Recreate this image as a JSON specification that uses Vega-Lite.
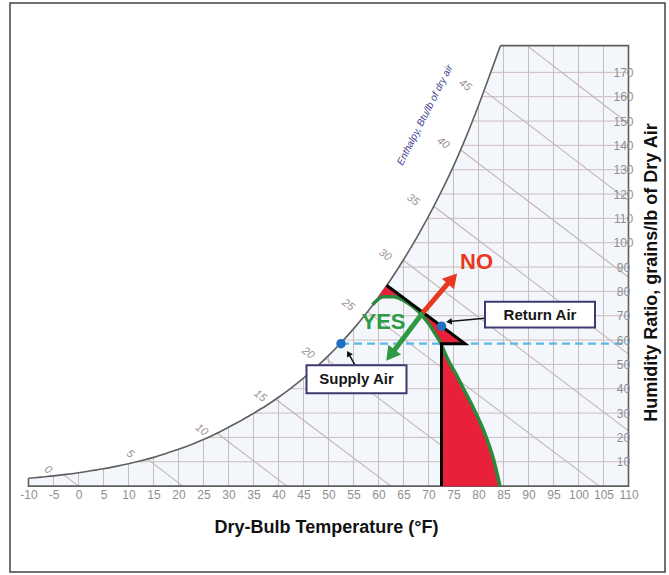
{
  "$schema": "https://vega.github.io/schema/vega-lite/v6.json",
  "width": 655,
  "height": 569,
  "autosize": {"type": "none"},
  "padding": {"left": 10, "top": 3, "right": 4, "bottom": 3},
  "background": "white",
  "config": {"font": "Liberation Sans", "view": {"stroke": "#444", "strokeWidth": 1.5}},
  "encoding": {
    "x": {"field": "T", "type": "quantitative", "scale": {"domain": [-13.7, 117.3], "nice": false, "zero": false},
      "axis": {"orient": "bottom", "offset": -86, "values": [-10,-5,0,5,10,15,20,25,30,35,40,45,50,55,60,65,70,75,80,85,90,95,100,105,110],
        "domain": false, "ticks": false, "grid": false, "labelColor": "#8f8f8f", "labelFontSize": 12, "labelPadding": 3, "labelFlush": false, "labelOverlap": false,
        "labelExpr": "'' + datum.value", "zindex": 1,
        "title": "Dry-Bulb Temperature (°F)", "titleFontSize": 18, "titleFontWeight": "bold", "titleColor": "#111", "titleX": 316, "titleY": 41, "titleAlign": "center", "titleBaseline": "middle"}},
    "y": {"field": "W", "type": "quantitative", "scale": {"domain": [-35.3, 198.5], "nice": false, "zero": false},
      "axis": {"orient": "right", "offset": -36, "values": [10,20,30,40,50,60,70,80,90,100,110,120,130,140,150,160,170],
        "domain": false, "ticks": false, "grid": false, "labelColor": "#8f8f8f", "labelFontSize": 12, "labelPadding": -6, "labelAlign": "center", "labelFlush": false, "labelOverlap": false, "zindex": 1,
        "title": "Humidity Ratio, grains/lb of Dry Air", "titleFontSize": 18, "titleFontWeight": "bold", "titleColor": "#111", "titleAngle": 270, "titleX": 22, "titleY": 269, "titleAlign": "center", "titleBaseline": "middle"}}
  },
  "layer": [
    {
      "data": {"values": [
        {"T": -10, "W": 3.2}, {"T": -7.5, "W": 3.7}, {"T": -5, "W": 4.2}, {"T": -2.5, "W": 4.8}, {"T": 0, "W": 5.5}, {"T": 2.5, "W": 6.3}, {"T": 5, "W": 7.1}, {"T": 7.5, "W": 8.1}, {"T": 10, "W": 9.2}, {"T": 12.5, "W": 10.4}, {"T": 15, "W": 11.8}, {"T": 17.5, "W": 13.4}, {"T": 20, "W": 15.1}, {"T": 22.5, "W": 17.0}, {"T": 25, "W": 19.1}, {"T": 27.5, "W": 21.5}, {"T": 30, "W": 24.2}, {"T": 32.5, "W": 26.9}, {"T": 35, "W": 29.9}, {"T": 37.5, "W": 33.0}, {"T": 40, "W": 36.5}, {"T": 42.5, "W": 40.3}, {"T": 45, "W": 44.4}, {"T": 47.5, "W": 48.8}, {"T": 50, "W": 53.6}, {"T": 52.5, "W": 58.9}, {"T": 55, "W": 64.6}, {"T": 57.5, "W": 70.8}, {"T": 60, "W": 77.6}, {"T": 62.5, "W": 85.0}, {"T": 65, "W": 93.0}, {"T": 67.5, "W": 101.6}, {"T": 70, "W": 110.8}, {"T": 72.5, "W": 120.8}, {"T": 75, "W": 131.5}, {"T": 77.5, "W": 143.4}, {"T": 80, "W": 156.4}, {"T": 82.5, "W": 170.3}, {"T": 84.4, "W": 181}, {"T": 110, "W": 181}
      ]},
      "mark": {"type": "area", "color": "#f3f7fb", "interpolate": "monotone"},
      "encoding": {"y2": {"datum": 0}}
    },
    {
      "data": {"values": [
        {"T": -5, "W": 0, "T2": -5, "W2": 4.2}, {"T": 0, "W": 0, "T2": 0, "W2": 5.5}, {"T": 5, "W": 0, "T2": 5, "W2": 7.1}, {"T": 10, "W": 0, "T2": 10, "W2": 9.2}, {"T": 15, "W": 0, "T2": 15, "W2": 11.8}, {"T": 20, "W": 0, "T2": 20, "W2": 15.1}, {"T": 25, "W": 0, "T2": 25, "W2": 19.1}, {"T": 30, "W": 0, "T2": 30, "W2": 24.2}, {"T": 35, "W": 0, "T2": 35, "W2": 29.9}, {"T": 40, "W": 0, "T2": 40, "W2": 36.5}, {"T": 45, "W": 0, "T2": 45, "W2": 44.4}, {"T": 50, "W": 0, "T2": 50, "W2": 53.6}, {"T": 55, "W": 0, "T2": 55, "W2": 64.6}, {"T": 60, "W": 0, "T2": 60, "W2": 77.6}, {"T": 65, "W": 0, "T2": 65, "W2": 93.0}, {"T": 70, "W": 0, "T2": 70, "W2": 110.8}, {"T": 75, "W": 0, "T2": 75, "W2": 131.5}, {"T": 80, "W": 0, "T2": 80, "W2": 156.4}, {"T": 85, "W": 0, "T2": 85, "W2": 181}, {"T": 90, "W": 0, "T2": 90, "W2": 181}, {"T": 95, "W": 0, "T2": 95, "W2": 181}, {"T": 100, "W": 0, "T2": 100, "W2": 181}, {"T": 105, "W": 0, "T2": 105, "W2": 181},
        {"T": 11.7, "W": 10, "T2": 110, "W2": 10}, {"T": 25.9, "W": 20, "T2": 110, "W2": 20}, {"T": 35.1, "W": 30, "T2": 110, "W2": 30}, {"T": 42.3, "W": 40, "T2": 110, "W2": 40}, {"T": 48.1, "W": 50, "T2": 110, "W2": 50}, {"T": 53.0, "W": 60, "T2": 110, "W2": 60}, {"T": 57.2, "W": 70, "T2": 110, "W2": 70}, {"T": 60.8, "W": 80, "T2": 110, "W2": 80}, {"T": 64.1, "W": 90, "T2": 110, "W2": 90}, {"T": 67.0, "W": 100, "T2": 110, "W2": 100}, {"T": 69.8, "W": 110, "T2": 110, "W2": 110}, {"T": 72.3, "W": 120, "T2": 110, "W2": 120}, {"T": 74.6, "W": 130, "T2": 110, "W2": 130}, {"T": 76.8, "W": 140, "T2": 110, "W2": 140}, {"T": 78.8, "W": 150, "T2": 110, "W2": 150}, {"T": 80.6, "W": 160, "T2": 110, "W2": 160}, {"T": 82.45, "W": 170, "T2": 110, "W2": 170}
      ]},
      "mark": {"type": "rule", "color": "#cbbdbd", "strokeWidth": 1},
      "encoding": {"x2": {"field": "T2"}, "y2": {"field": "W2"}}
    },
    {
      "data": {"values": [
        {"T": -3, "W": 4.7, "T2": 0, "W2": 0}, {"T": 13.75, "W": 11.2, "T2": 20.83, "W2": 0}, {"T": 27.7, "W": 21.8, "T2": 41.67, "W2": 0}, {"T": 39.5, "W": 35.6, "T2": 62.5, "W2": 0}, {"T": 49.45, "W": 52.5, "T2": 83.33, "W2": 0}, {"T": 57.8, "W": 71.6, "T2": 104.17, "W2": 0}, {"T": 64.95, "W": 92.8, "T2": 110, "W2": 22.7}, {"T": 71.05, "W": 115, "T2": 110, "W2": 54.2}, {"T": 76.4, "W": 138.2, "T2": 110, "W2": 85.8}, {"T": 81.1, "W": 162.5, "T2": 110, "W2": 117.3}, {"T": 89.7, "W": 181, "T2": 110, "W2": 148.9}
      ]},
      "mark": {"type": "rule", "color": "#c2b3b3", "strokeWidth": 1.1},
      "encoding": {"x2": {"field": "T2"}, "y2": {"field": "W2"}}
    },
    {
      "data": {"values": [
        {"T": -10, "W": 3.2}, {"T": -7.5, "W": 3.7}, {"T": -5, "W": 4.2}, {"T": -2.5, "W": 4.8}, {"T": 0, "W": 5.5}, {"T": 2.5, "W": 6.3}, {"T": 5, "W": 7.1}, {"T": 7.5, "W": 8.1}, {"T": 10, "W": 9.2}, {"T": 12.5, "W": 10.4}, {"T": 15, "W": 11.8}, {"T": 17.5, "W": 13.4}, {"T": 20, "W": 15.1}, {"T": 22.5, "W": 17.0}, {"T": 25, "W": 19.1}, {"T": 27.5, "W": 21.5}, {"T": 30, "W": 24.2}, {"T": 32.5, "W": 26.9}, {"T": 35, "W": 29.9}, {"T": 37.5, "W": 33.0}, {"T": 40, "W": 36.5}, {"T": 42.5, "W": 40.3}, {"T": 45, "W": 44.4}, {"T": 47.5, "W": 48.8}, {"T": 50, "W": 53.6}, {"T": 52.5, "W": 58.9}, {"T": 55, "W": 64.6}, {"T": 57.5, "W": 70.8}, {"T": 60, "W": 77.6}, {"T": 62.5, "W": 85.0}, {"T": 65, "W": 93.0}, {"T": 67.5, "W": 101.6}, {"T": 70, "W": 110.8}, {"T": 72.5, "W": 120.8}, {"T": 75, "W": 131.5}, {"T": 77.5, "W": 143.4}, {"T": 80, "W": 156.4}, {"T": 82.5, "W": 170.3}, {"T": 84.4, "W": 181}
      ]},
      "mark": {"type": "line", "color": "#5f5f5f", "strokeWidth": 1.6, "interpolate": "monotone"}
    },
    {
      "data": {"values": [
        {"i": 0, "T": -10, "W": 3.2}, {"i": 1, "T": -10, "W": 0}, {"i": 2, "T": 110, "W": 0}, {"i": 3, "T": 110, "W": 181}, {"i": 4, "T": 84.4, "W": 181}
      ]},
      "mark": {"type": "line", "color": "#5f5f5f", "strokeWidth": 1.6},
      "encoding": {"order": {"field": "i", "type": "quantitative"}}
    },
    {
      "data": {"values": [
        {"i": 1, "T": 58.8, "W": 74.5}, {"i": 2, "T": 60, "W": 77.6}, {"i": 3, "T": 61.6, "W": 82.5}, {"i": 4, "T": 77.3, "W": 58.5}, {"i": 5, "T": 72.6, "W": 58.5}, {"i": 6, "T": 72.6, "W": 0}, {"i": 7, "T": 84.3, "W": 0}, {"i": 8, "T": 83, "W": 11}, {"i": 9, "T": 81, "W": 23}, {"i": 10, "T": 79, "W": 32}, {"i": 11, "T": 77, "W": 40}, {"i": 12, "T": 75.5, "W": 46}, {"i": 13, "T": 74, "W": 51.5}, {"i": 14, "T": 73.1, "W": 55.5}, {"i": 15, "T": 72.5, "W": 58.5}, {"i": 16, "T": 71.5, "W": 62}, {"i": 17, "T": 70.3, "W": 66}, {"i": 18, "T": 68.8, "W": 70}, {"i": 19, "T": 67, "W": 73.5}, {"i": 20, "T": 65, "W": 76.3}, {"i": 21, "T": 63, "W": 77.8}, {"i": 22, "T": 61, "W": 77.8}, {"i": 23, "T": 58.8, "W": 74.5}
      ]},
      "mark": {"type": "line", "fill": "#e8203a", "stroke": "#e8203a", "strokeWidth": 0.5, "filled": true},
      "encoding": {"order": {"field": "i", "type": "quantitative"}}
    },
    {
      "data": {"values": [
        {"T": 52.5, "W": 58.5, "T2": 110, "W2": 58.5}
      ]},
      "mark": {"type": "rule", "color": "#5cb6e6", "strokeWidth": 2.2, "strokeDash": [8, 5]},
      "encoding": {"x2": {"field": "T2"}, "y2": {"field": "W2"}}
    },
    {
      "data": {"values": [
        {"T": 58.8, "W": 74.5}, {"T": 61, "W": 77.8}, {"T": 63, "W": 77.8}, {"T": 65, "W": 76.3}, {"T": 67, "W": 73.5}, {"T": 68.8, "W": 70}, {"T": 70.3, "W": 66}, {"T": 71.5, "W": 62}, {"T": 72.5, "W": 58.5}, {"T": 73.1, "W": 55.5}, {"T": 74, "W": 51.5}, {"T": 75.5, "W": 46}, {"T": 77, "W": 40}, {"T": 79, "W": 32}, {"T": 81, "W": 23}, {"T": 83, "W": 11}, {"T": 84.3, "W": 0}
      ]},
      "mark": {"type": "line", "color": "#2a8a3c", "strokeWidth": 3.5, "interpolate": "monotone"}
    },
    {
      "data": {"values": [
        {"i": 0, "T": 61.6, "W": 82.5}, {"i": 1, "T": 77.3, "W": 58.5}, {"i": 2, "T": 72.6, "W": 58.5}, {"i": 3, "T": 72.6, "W": 0}
      ]},
      "mark": {"type": "line", "color": "#000000", "strokeWidth": 3, "strokeJoin": "miter"},
      "encoding": {"order": {"field": "i", "type": "quantitative"}}
    },
    {
      "data": {"values": [{"T": 68.84, "W": 71.2, "T2": 74.7, "W2": 85.2}]},
      "mark": {"type": "rule", "color": "#e8381f", "strokeWidth": 5},
      "encoding": {"x2": {"field": "T2"}, "y2": {"field": "W2"}}
    },
    {
      "data": {"values": [{"T": 74.8, "W": 85.2}]},
      "mark": {"type": "point", "shape": "triangle-up", "filled": true, "color": "#e8381f", "opacity": 1, "size": 260, "angle": 41}
    },
    {
      "data": {"values": [{"T": 68.84, "W": 71.2, "T2": 62.4, "W2": 53.8}]},
      "mark": {"type": "rule", "color": "#2e9a45", "strokeWidth": 5},
      "encoding": {"x2": {"field": "T2"}, "y2": {"field": "W2"}}
    },
    {
      "data": {"values": [{"T": 62.4, "W": 53.8}]},
      "mark": {"type": "point", "shape": "triangle-up", "filled": true, "color": "#2e9a45", "opacity": 1, "size": 260, "angle": 217}
    },
    {
      "data": {"values": [{"T": 81.3, "W": 69, "T2": 74.1, "W2": 67.6}, {"T": 55.3, "W": 49.7, "T2": 54.0, "W2": 54.5}]},
      "mark": {"type": "rule", "color": "#111111", "strokeWidth": 1.5},
      "encoding": {"x2": {"field": "T2"}, "y2": {"field": "W2"}}
    },
    {
      "data": {"values": [{"T": 74.1, "W": 67.6}]},
      "mark": {"type": "point", "shape": "triangle-up", "filled": true, "color": "#111111", "opacity": 1, "size": 45, "angle": 264}
    },
    {
      "data": {"values": [{"T": 54.0, "W": 54.5}]},
      "mark": {"type": "point", "shape": "triangle-up", "filled": true, "color": "#111111", "opacity": 1, "size": 45, "angle": 331}
    },
    {
      "data": {"values": [{"T": 72.6, "W": 65.7}, {"T": 52.5, "W": 58.5}]},
      "mark": {"type": "point", "shape": "circle", "filled": true, "color": "#1f6fbf", "opacity": 1, "size": 90}
    },
    {
      "data": {"values": [{"T": 81.3, "W": 65.2, "T2": 103.3, "W2": 75.7}, {"T": 45.6, "W": 38.1, "T2": 65.6, "W2": 49.7}]},
      "mark": {"type": "rect", "fill": "white", "stroke": "#3b3a72", "strokeWidth": 2},
      "encoding": {"x2": {"field": "T2"}, "y2": {"field": "W2"}}
    },
    {
      "data": {"values": [{"T": 92.3, "W": 70.5, "label": "Return Air"}, {"T": 55.6, "W": 43.9, "label": "Supply Air"}]},
      "mark": {"type": "text", "fontSize": 15, "fontWeight": "bold", "color": "#161616", "align": "center", "baseline": "middle"},
      "encoding": {"text": {"field": "label"}}
    },
    {
      "data": {"values": [{"T": 79.6, "W": 92.2, "label": "NO"}]},
      "mark": {"type": "text", "fontSize": 22, "fontWeight": "bold", "color": "#e8381f", "align": "center", "baseline": "middle"},
      "encoding": {"text": {"field": "label"}}
    },
    {
      "data": {"values": [{"T": 61, "W": 67.5, "label": "YES"}]},
      "mark": {"type": "text", "fontSize": 22, "fontWeight": "bold", "color": "#2e9a45", "align": "center", "baseline": "middle"},
      "encoding": {"text": {"field": "label"}}
    },
    {
      "data": {"values": [
        {"T": -6.1, "W": 6.6, "label": "0"}, {"T": 10.3, "W": 13.1, "label": "5"}, {"T": 24.6, "W": 23, "label": "10"}, {"T": 36.3, "W": 37, "label": "15"}, {"T": 45.9, "W": 54.6, "label": "20"}, {"T": 53.9, "W": 74.4, "label": "25"}, {"T": 61.3, "W": 94.9, "label": "30"}, {"T": 66.9, "W": 117.5, "label": "35"}, {"T": 72.9, "W": 140.9, "label": "40"}, {"T": 77.3, "W": 164.7, "label": "45"}
      ]},
      "mark": {"type": "text", "fontSize": 11, "fontStyle": "italic", "color": "#9c9090", "align": "center", "baseline": "middle", "angle": 37},
      "encoding": {"text": {"field": "label"}}
    },
    {
      "data": {"values": [{"T": 69.3, "W": 152.4, "label": "Enthalpy, Btu/lb of dry air"}]},
      "mark": {"type": "text", "fontSize": 10, "fontStyle": "italic", "color": "#3d3d8f", "align": "center", "baseline": "middle", "angle": -63},
      "encoding": {"text": {"field": "label"}}
    }
  ]
}
